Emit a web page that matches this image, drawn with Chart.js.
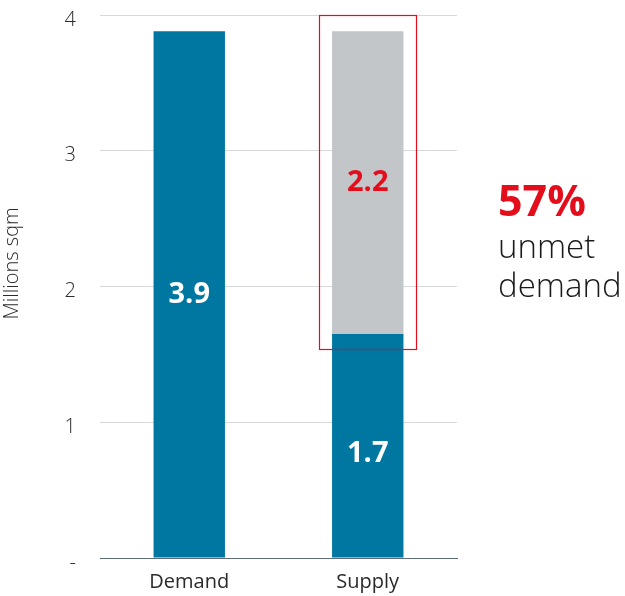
<!DOCTYPE html>
<html>
<head>
<meta charset="utf-8">
<script src="https://cdn.jsdelivr.net/npm/chart.js@4"></script>
<style>
html,body{margin:0;padding:0;background:#fff;}
#wrap{position:relative;width:625px;height:596px;}
canvas{display:block;}
</style>
</head>
<body>
<div id="wrap"><canvas id="c" width="625" height="596"></canvas></div>
<script>
const categories = ["Demand", "Supply"];
const metValues = [3.88, 1.65];
const unmetValues = [null, 2.23];
const yTickLabels = {0: "-", 1: "1", 2: "2", 3: "3", 4: "4"};
const yTitle = "Millions sqm";
const unmetShare = "57%";
const unmetText = ["unmet", "demand"];
const boxBottomValue = 1.54;

const BLUE = "#0077a1";
const GREY = "#c2c6c9";
const RED = "#e30d1c";
const FONT = "'Open Sans', 'Noto Sans', sans-serif";

const labelsPlugin = {
  id: "barLabels",
  afterDatasetsDraw(chart) {
    const ctx = chart.ctx;
    ctx.save();
    ctx.textAlign = "center";
    ctx.textBaseline = "middle";
    ctx.font = "bold 29px " + FONT;
    chart.data.datasets.forEach((ds, di) => {
      const meta = chart.getDatasetMeta(di);
      meta.data.forEach((bar, i) => {
        const v = ds.data[i];
        if (v == null) return;
        const y = (bar.y + bar.base) / 2;
        ctx.fillStyle = di === 1 ? RED : "#ffffff";
        ctx.fillText((Math.round(v * 10) / 10).toFixed(1), bar.x, y + (di === 0 && i === 1 ? 8 : 0));
      });
    });
    const ys = chart.scales.y;
    // red box around the unmet part
    const bar = chart.getDatasetMeta(1).data[1];
    const half = bar.width / 2 + 13;
    const top = ys.getPixelForValue(4);
    const bot = ys.getPixelForValue(boxBottomValue);
    ctx.strokeStyle = RED;
    ctx.lineWidth = 1.2;
    ctx.strokeRect(Math.round(bar.x - half) + 0.5, Math.round(top) + 0.5, Math.round(half * 2), Math.round(bot - top));
    // side annotation
    const ax = chart.chartArea.right + 41;
    ctx.textAlign = "left";
    ctx.textBaseline = "alphabetic";
    ctx.fillStyle = RED;
    ctx.font = "bold 43px " + FONT;
    ctx.fillText(unmetShare, ax, ys.getPixelForValue(2.52));
    ctx.fillStyle = "#1a1a1a";
    ctx.font = "300 33px " + FONT;
    ctx.fillText(unmetText[0], ax, ys.getPixelForValue(2.21));
    ctx.fillText(unmetText[1], ax, ys.getPixelForValue(1.92));
    // y axis title
    ctx.save();
    ctx.translate(12, ys.getPixelForValue(2.17));
    ctx.rotate(-Math.PI / 2);
    ctx.textAlign = "center";
    ctx.textBaseline = "middle";
    ctx.fillStyle = "#2a2a2a";
    ctx.font = "300 20px " + FONT;
    ctx.fillText(yTitle, 0, 0);
    ctx.restore();
    ctx.restore();
  }
};

new Chart(document.getElementById("c"), {
  type: "bar",
  data: {
    labels: categories,
    datasets: [
      { label: "Met", data: metValues, backgroundColor: BLUE, barPercentage: 0.4, categoryPercentage: 1 },
      { label: "Unmet", data: unmetValues, backgroundColor: GREY, barPercentage: 0.4, categoryPercentage: 1 }
    ]
  },
  options: {
    responsive: false,
    animation: false,
    layout: { padding: { top: 15, right: 168, left: 0, bottom: 0 } },
    plugins: { legend: { display: false }, tooltip: { enabled: false } },
    scales: {
      x: {
        stacked: true,
        grid: { display: false, drawTicks: false },
        border: { display: true, color: "#5d6d74", width: 1 },
        ticks: { color: "#2a2a2a", font: { family: FONT, size: 20 }, padding: 12 },
        afterFit(s) { s.height = 38; s.paddingLeft = 0; s.paddingRight = 0; }
      },
      y: {
        stacked: true,
        min: 0, max: 4,
        grid: { color: "#d6d9db", drawTicks: false, lineWidth: 1 },
        border: { display: false },
        ticks: {
          stepSize: 1, padding: 24, color: "#2a2a2a", labelOffset: 5,
          font: { family: FONT, size: 20, weight: 300 },
          callback: v => yTickLabels[v]
        },
        title: { display: false },
        afterFit(s) { s.width = 100; s.paddingTop = 0; s.paddingBottom = 0; }
      }
    }
  },
  plugins: [labelsPlugin]
});
</script>
</body>
</html>
